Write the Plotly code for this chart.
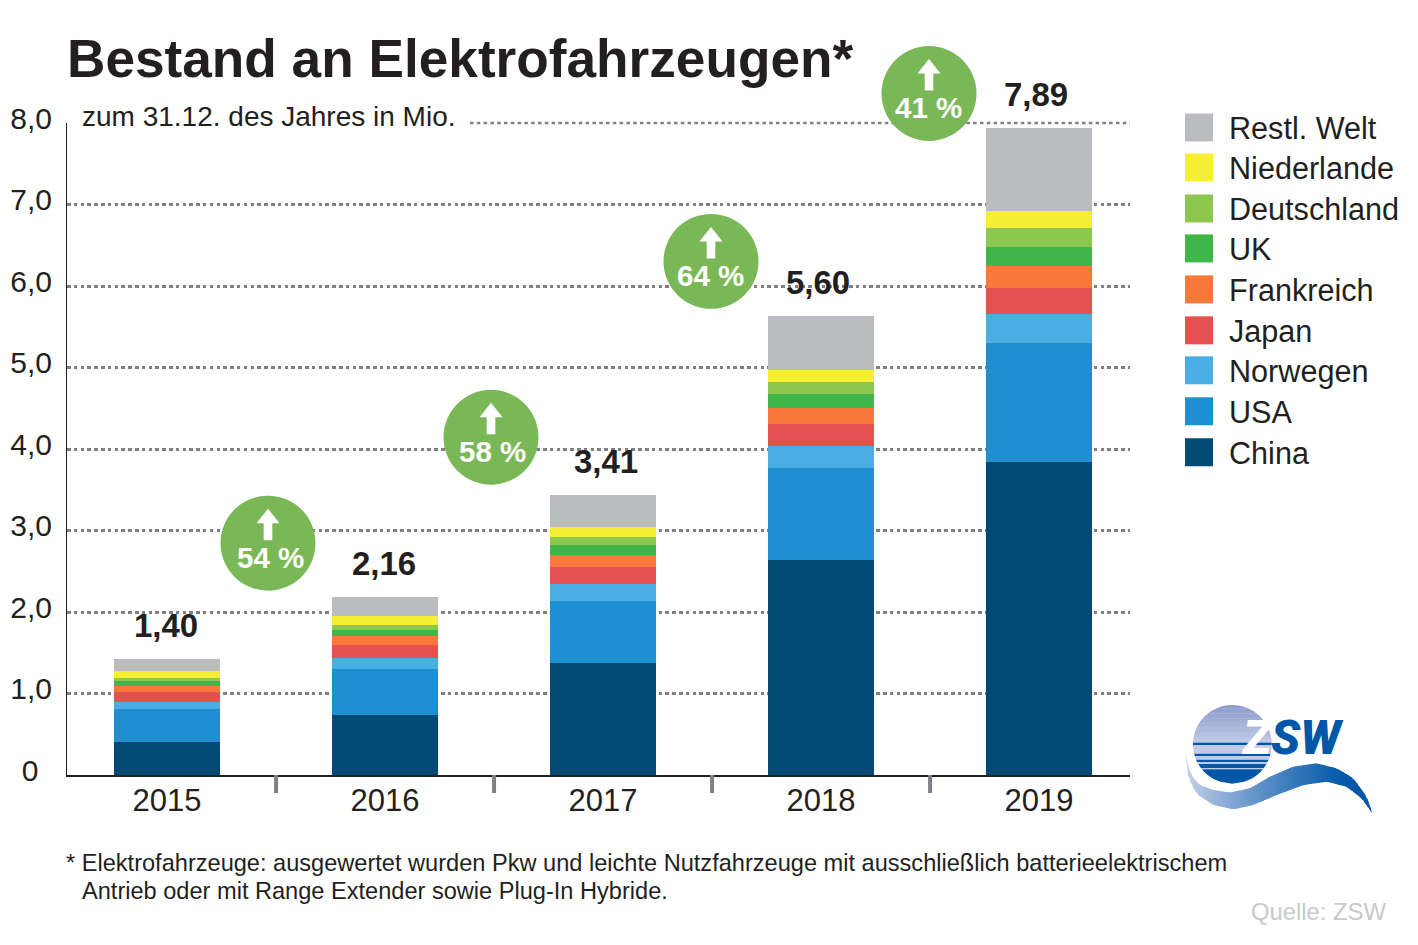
import numpy as np
import plotly.graph_objects as go

years = ["2015", "2016", "2017", "2018", "2019"]
totals = ["1,40", "2,16", "3,41", "5,60", "7,89"]
growth = ["54 %", "58 %", "64 %", "41 %"]
china = [0.405, 0.736, 1.373, 2.636, 3.838]
usa = [0.405, 0.564, 0.760, 1.128, 1.459]
norwegen = [0.086, 0.135, 0.208, 0.270, 0.356]
japan = [0.123, 0.159, 0.208, 0.270, 0.319]
frankreich = [0.074, 0.110, 0.147, 0.196, 0.270]
uk = [0.061, 0.074, 0.123, 0.172, 0.233]
deutschland = [0.037, 0.061, 0.098, 0.147, 0.233]
niederlande = [0.086, 0.110, 0.123, 0.147, 0.208]
rest = [0.147, 0.233, 0.392, 0.662, 1.018]
y_ticks = [0, 1, 2, 3, 4, 5, 6, 7, 8]
y_labels = ["0\u2005\u2009", "1,0", "2,0", "3,0", "4,0", "5,0", "6,0", "7,0", "8,0"]

series = [
    ("China", china, "#004A75"), ("USA", usa, "#1E90D2"), ("Norwegen", norwegen, "#4BAEE3"),
    ("Japan", japan, "#E55050"), ("Frankreich", frankreich, "#F9783A"), ("UK", uk, "#40B54A"),
    ("Deutschland", deutschland, "#8CC850"), ("Niederlande", niederlande, "#F6EE33"),
    ("Restl. Welt", rest, "#BBBCC0"),
]

FONT = "Liberation Sans"
INK = "#231F20"
GRID = "#808084"
GRID_DASH = "3.5px,3.3px"
L, R, T, B = 67, 1130, 122.5, 775


def px(x):
    return (x - L) / (R - L)


def py(y):
    return (B - y) / (B - T)


fig = go.Figure()
for name, vals, col in series:
    fig.add_bar(x=years, y=vals, name=name, marker=dict(color=col, line_width=0), width=0.484)

shapes, ann = [], []


def text(x, y, s, size, color=INK, bold=False, anchor="left", family=FONT, **fontkw):
    if bold:
        s = "<b>" + s + "</b>"
    ann.append(dict(xref="paper", yref="paper", x=px(x), y=py(y), text=s, showarrow=False,
                    xanchor=anchor, yanchor="middle", borderpad=0, align="left",
                    font=dict(family=family, size=size, color=color, **fontkw)))


def rect(x0, y0, x1, y1, color):
    shapes.append(dict(type="rect", xref="paper", yref="paper", x0=px(x0), x1=px(x1), y0=py(y0), y1=py(y1),
                       fillcolor=color, line_width=0, layer="above"))


def poly(points, color):
    d = "M" + "L".join(f"{px(a):.5f},{py(b):.5f}" for a, b in points) + "Z"
    shapes.append(dict(type="path", xref="paper", yref="paper", path=d, fillcolor=color, line_width=0, layer="above"))


def mix(c1, c2, t):
    c = [round(a + (b - a) * t) for a, b in zip(c1, c2)]
    return f"rgb({c[0]},{c[1]},{c[2]})"


# top gridline, interrupted by the subtitle (the axis drops a grid line on its range edge)
shapes.append(dict(type="line", xref="paper", yref="paper", x0=px(470), x1=1, y0=1, y1=1, layer="below",
                   line=dict(color=GRID, width=2.7, dash=GRID_DASH)))

# separators between the years
for i in range(len(years) - 1):
    shapes.append(dict(type="line", xref="x", yref="paper", x0=i + 0.5, x1=i + 0.5, y0=py(775), y1=py(793),
                       line=dict(color="#808084", width=4)))

# total labels above the stacks
label_shift = [-1, -1, 3, -3, -3]
for i, y in enumerate(years):
    top = sum(s[1][i] for s in series)
    ann.append(dict(x=i, y=top, xref="x", yref="y", text="<b>" + totals[i] + "</b>", showarrow=False,
                    yanchor="bottom", yshift=14, xshift=label_shift[i], borderpad=0,
                    font=dict(family=FONT, size=33, color=INK)))

# growth badges
badges = [(268, 543, 2), (491, 437, 1.5), (711, 261, -1), (929, 93, -1)]
for (cx, cy, dx), label in zip(badges, growth):
    shapes.append(dict(type="circle", xref="paper", yref="paper", x0=px(cx - 47.5), x1=px(cx + 47.5),
                       y0=py(cy - 47.5), y1=py(cy + 47.5), fillcolor="#7AB857", line_width=0, layer="above"))
    poly([(cx, cy - 34.5), (cx + 11.5, cy - 20), (cx + 4.3, cy - 20), (cx + 4.3, cy - 3),
          (cx - 4.3, cy - 3), (cx - 4.3, cy - 20), (cx - 11.5, cy - 20)], "#FFFFFF")
    text(cx + dx, cy + 14, label, 29.5, "#FFFFFF", True, "center")

# subtitle
text(81, 116, "zum 31.12. des Jahres in Mio.", 28)

# legend
legend_y = [452, 411, 370, 330, 289, 248, 208, 167, 127]
for (name, _, col), ly in zip(series, legend_y):
    rect(1185, ly - 14, 1213, ly + 14, col)
    text(1227.5, ly + 1, name, 30.6)

# footnote and source
text(65, 863, "* Elektrofahrzeuge: ausgewertet wurden Pkw und leichte Nutzfahrzeuge mit ausschließlich batterieelektrischem", 23.58)
text(81, 891, "Antrieb oder mit Range Extender sowie Plug-In Hybride.", 23.58)
text(1250, 912, "Quelle: ZSW", 23.8, "#C8C9CB")


# logo, drawn in crop coordinates
def zx(v):
    return 1170 + v / 3


def zy(v):
    return 690 + v / 3


cz, cw, rz = 187, 163, 118


def band(y0, y1, color):
    ys = np.linspace(y0, y1, 9)
    half = np.sqrt(np.maximum(rz ** 2 - (ys - cw) ** 2, 0))
    pts = [(zx(cz - h), zy(v)) for h, v in zip(half, ys)] + [(zx(cz + h), zy(v)) for h, v in zip(half[::-1], ys[::-1])]
    poly(pts, color)


steps = np.linspace(45, 165, 25)
for a, b in zip(steps[:-1], steps[1:]):
    band(a, b + 1, mix((140, 156, 203), (197, 205, 232), (a - 45) / 120))
DARK = "#0057A8"
LIGHT = "#C0CAE6"
for a, b, c in [(158, 165, DARK), (165, 191, LIGHT), (191, 198, DARK), (198, 209, LIGHT), (209, 216, DARK),
                (216, 222, LIGHT), (222, 235, DARK), (235, 238, LIGHT), (238, 281, DARK)]:
    band(a, b, c)

tx = [45, 52, 60, 72, 90, 130, 180, 240, 300, 370, 440, 500, 550, 590, 607]
ty = [190, 222, 245, 268, 285, 300, 308, 295, 260, 230, 220, 235, 265, 320, 370]
bx = [45, 48, 55, 68, 85, 130, 190, 250, 320, 400, 470, 530, 575, 607]
by = [190, 228, 260, 292, 315, 345, 358, 345, 315, 285, 275, 290, 325, 370]
edges = np.linspace(45, 607, 71)
for a, b in zip(edges[:-1], edges[1:]):
    e = min(b + 4, 607)
    poly([(zx(a), zy(np.interp(a, tx, ty))), (zx(e), zy(np.interp(e, tx, ty))),
          (zx(e), zy(np.interp(e, bx, by))), (zx(a), zy(np.interp(a, bx, by)))],
         mix((205, 212, 236), (0, 87, 168), min(1, ((a - 45) / 480) ** 0.8)))

text(zx(213), zy(142), "Z", 48, "#FFFFFF", False, "left", "Roboto", weight=900, style="italic")
text(zx(300), zy(142), "SW", 48, DARK, False, "left", "Roboto", weight=900, style="italic")

fig.update_layout(
    width=1418, height=945, barmode="stack", showlegend=False, paper_bgcolor="#FFFFFF", plot_bgcolor="#FFFFFF",
    margin=dict(l=L, r=1418 - R, t=T, b=945 - B, pad=0),
    font=dict(family=FONT, color=INK),
    title=dict(text="<b>Bestand an Elektrofahrzeugen*</b>", font=dict(family=FONT, size=53.2, color=INK),
               xref="container", yref="container", x=67 / 1418, xanchor="left", y=1 - 58 / 945, yanchor="middle",
               pad=dict(l=0, r=0, t=0, b=0)),
    xaxis=dict(type="category", range=[-0.459, 4.417], showgrid=False, showline=True, linecolor="#231F20", linewidth=1.5,
               ticks="", tickfont=dict(family=FONT, size=31, color=INK), ticklabelstandoff=-3, automargin=False),
    yaxis=dict(range=[0, 8], tickvals=y_ticks, ticktext=y_labels, showgrid=True, gridcolor=GRID, gridwidth=2.7,
               griddash=GRID_DASH, zeroline=False, showline=True, linecolor="#231F20", linewidth=1, ticks="",
               tickfont=dict(family=FONT, size=30, color=INK), ticklabelstandoff=8, ticklabelshift=-5, automargin=False),
    shapes=shapes, annotations=ann,
)
fig.write_html("out.html", config=dict(displayModeBar=False),
               post_script="document.body.style.margin='0';document.documentElement.style.overflow='hidden';")
